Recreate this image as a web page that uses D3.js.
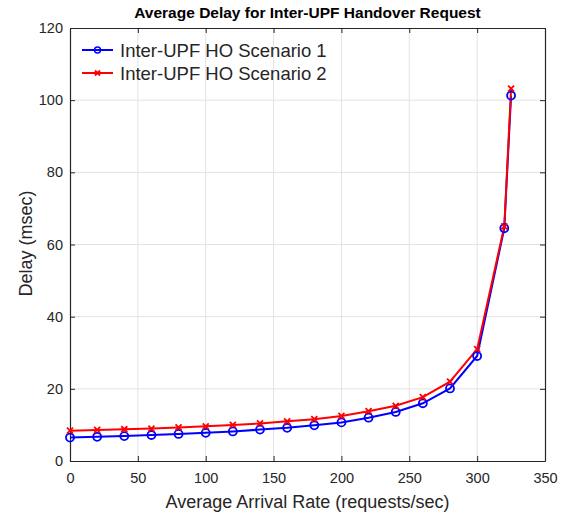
<!DOCTYPE html>
<html lang="en">
<head>
    <meta charset="UTF-8">
    <title>Average Delay for Inter-UPF Handover Request</title>
    <script src="https://d3js.org/d3.v7.min.js"></script>
    <style>
        body { margin: 0; background: #fff; }
        text { font-family: "Liberation Sans", Arial, sans-serif; fill: #262626; }
        .grid line { stroke: #e3e3e3; stroke-width: 1; }
        .axis path, .axis line { stroke: #262626; }
    </style>
</head>
<body>
    <script>
        // Data
        var arrivalRate = [0, 20, 40, 60, 80, 100, 120, 140, 160, 180, 200, 220, 240, 260, 280, 300, 320, 325];
        var scenario1 = [6.5, 6.7, 6.9, 7.2, 7.5, 7.8, 8.2, 8.7, 9.2, 9.9, 10.7, 12.0, 13.6, 16.0, 20.1, 29.1, 64.5, 101.3];
        var scenario2 = [8.4, 8.6, 8.8, 9.0, 9.3, 9.6, 10.0, 10.4, 11.0, 11.6, 12.5, 13.8, 15.3, 17.7, 22.0, 31.0, 65.0, 103.2];
        var xTicks = [0, 50, 100, 150, 200, 250, 300, 350];
        var yTicks = [0, 20, 40, 60, 80, 100, 120];
        var seriesNames = ["Inter-UPF HO Scenario 1", "Inter-UPF HO Scenario 2"];

        var margin = {top: 28, right: 25, bottom: 55, left: 70},
            width = 570 - margin.left - margin.right,
            height = 516 - margin.top - margin.bottom;

        var x = d3.scaleLinear().domain([0, 350]).range([0, width]);
        var y = d3.scaleLinear().domain([0, 120]).range([height, 0]);

        var svg = d3.select("body").append("svg")
            .attr("width", 570)
            .attr("height", 516)
            .append("g")
            .attr("transform", "translate(" + margin.left + "," + margin.top + ")");

        // Grid lines
        svg.append("g").attr("class", "grid")
            .selectAll("line").data(xTicks.slice(1, -1)).enter().append("line")
            .attr("x1", d => x(d)).attr("x2", d => x(d))
            .attr("y1", 0).attr("y2", height);
        svg.append("g").attr("class", "grid")
            .selectAll("line").data(yTicks.slice(1, -1)).enter().append("line")
            .attr("x1", 0).attr("x2", width)
            .attr("y1", d => y(d)).attr("y2", d => y(d));

        // Axes (ticks inside, MATLAB style box)
        svg.append("g").attr("class", "axis")
            .attr("transform", "translate(0," + height + ")")
            .call(d3.axisBottom(x).tickValues(xTicks).tickSizeInner(-5).tickSizeOuter(0).tickPadding(12))
            .selectAll("text").style("font-size", "14.5px");
        svg.append("g").attr("class", "axis")
            .call(d3.axisLeft(y).tickValues(yTicks).tickSizeInner(-5).tickSizeOuter(0).tickPadding(7))
            .selectAll("text").style("font-size", "14.5px");
        svg.append("g").attr("class", "axis")
            .call(d3.axisTop(x).tickValues(xTicks).tickSizeInner(-5).tickSizeOuter(0).tickFormat(""));
        svg.append("g").attr("class", "axis")
            .attr("transform", "translate(" + width + ",0)")
            .call(d3.axisRight(y).tickValues(yTicks).tickSizeInner(-5).tickSizeOuter(0).tickFormat(""));
        svg.selectAll(".axis path").attr("stroke-width", 1.2);

        var line = d3.line()
            .x(function(d, i) { return x(arrivalRate[i]); })
            .y(function(d) { return y(d); });

        // Series 1 (blue, circles)
        svg.append("path").datum(scenario1)
            .attr("d", line).attr("fill", "none")
            .attr("stroke", "#0000ff").attr("stroke-width", 2);
        // Series 2 (red, crosses)
        svg.append("path").datum(scenario2)
            .attr("d", line).attr("fill", "none")
            .attr("stroke", "#ff0000").attr("stroke-width", 2);

        svg.selectAll(".circ").data(scenario1).enter().append("circle")
            .attr("cx", (d, i) => x(arrivalRate[i]))
            .attr("cy", d => y(d))
            .attr("r", 4)
            .attr("fill", "none").attr("stroke", "#0000ff").attr("stroke-width", 1.8);

        var cross = function(g, cx, cy, s) {
            g.append("path")
                .attr("d", "M" + (cx - s) + "," + (cy - s) + "L" + (cx + s) + "," + (cy + s) +
                           "M" + (cx - s) + "," + (cy + s) + "L" + (cx + s) + "," + (cy - s))
                .attr("stroke", "#ff0000").attr("stroke-width", 1.8);
        };
        scenario2.forEach(function(d, i) { cross(svg, x(arrivalRate[i]), y(d), 3); });

        // Legend (no box)
        var legend = svg.append("g").attr("transform", "translate(12,22)");
        seriesNames.forEach(function(name, i) {
            var ly = i * 23;
            var col = i === 0 ? "#0000ff" : "#ff0000";
            legend.append("line").attr("x1", 0).attr("x2", 31).attr("y1", ly).attr("y2", ly)
                .attr("stroke", col).attr("stroke-width", 2);
            if (i === 0) {
                legend.append("circle").attr("cx", 15.5).attr("cy", ly).attr("r", 3)
                    .attr("fill", "none").attr("stroke", col).attr("stroke-width", 1.5);
            } else {
                cross(legend, 15.5, ly, 2.5);
            }
            legend.append("text").attr("x", 38).attr("y", ly + 6.5)
                .style("font-size", "18.5px").text(name);
        });

        // Title
        svg.append("text")
            .attr("x", width / 2).attr("y", -10)
            .attr("text-anchor", "middle")
            .style("font-size", "15.5px").style("font-weight", "bold").style("fill", "#000")
            .text("Average Delay for Inter-UPF Handover Request");

        // X axis label
        svg.append("text")
            .attr("x", width / 2).attr("y", height + 47)
            .attr("text-anchor", "middle")
            .style("font-size", "18px")
            .text("Average Arrival Rate (requests/sec)");

        // Y axis label
        svg.append("text")
            .attr("transform", "rotate(-90)")
            .attr("x", -height / 2 + 1).attr("y", -38)
            .attr("text-anchor", "middle")
            .style("font-size", "18px")
            .text("Delay (msec)");
    </script>
</body>
</html>
